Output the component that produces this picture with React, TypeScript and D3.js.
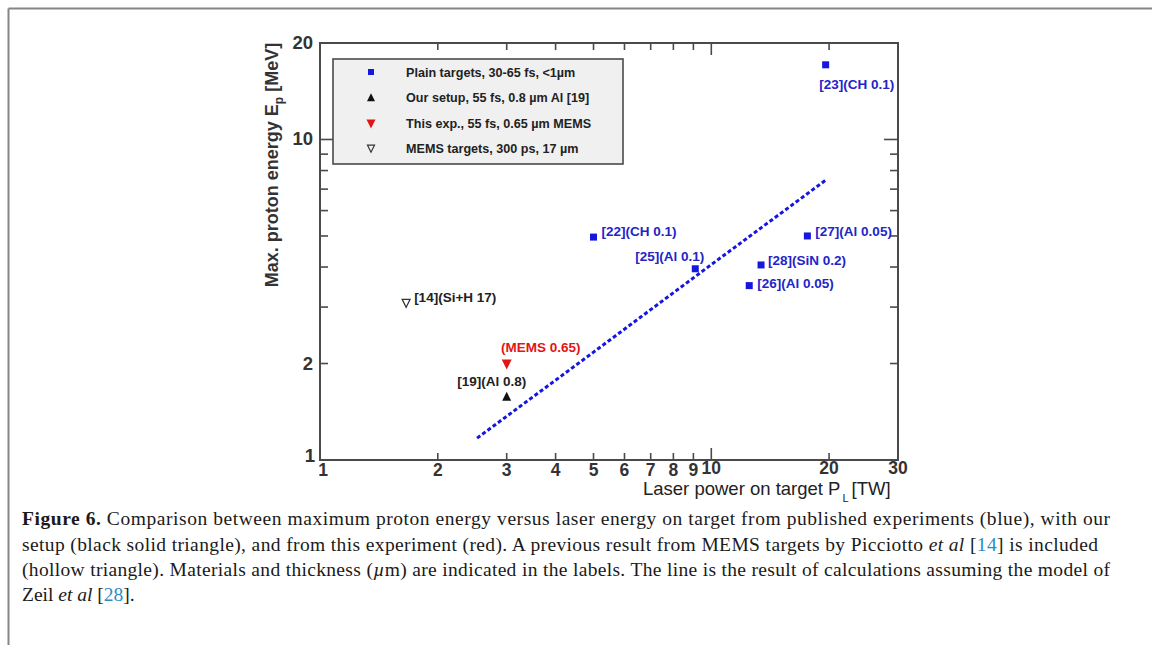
import * as d3 from 'd3';

// published experiments, plain targets (blue squares)
const plainRefs = ['[23](CH 0.1)', '[22](CH 0.1)', '[25](Al 0.1)', '[27](Al 0.05)', '[28](SiN 0.2)', '[26](Al 0.05)'];
const plainPower = [19.6, 5.0, 9.1, 17.6, 13.4, 12.5];
const plainEnergy = [17.1, 4.96, 3.95, 5.0, 4.06, 3.5];

// our setup (black triangle), this experiment (red), MEMS 300 ps (hollow)
const ourRef = '[19](Al 0.8)';
const ourPower = [3];
const ourEnergy = [1.57];
const thisRef = '(MEMS 0.65)';
const thisPower = [3];
const thisEnergy = [2.0];
const memsRef = '[14](Si+H 17)';
const memsPower = [1.66];
const memsEnergy = [3.1];

// model line (Zeil et al)
const modelPower = [2.52, 5, 10, 19.7];
const modelEnergy = [1.17, 2.17, 4.07, 7.5];

const xTicks = [1, 2, 3, 4, 5, 6, 7, 8, 9, 10, 20, 30];
const xTickLabels = ['1', '2', '3', '4', '5', '6', '7', '8', '9', '10', '20', '30'];
const yTicks = [1, 2, 3, 4, 5, 6, 7, 8, 9, 10, 20];
const yLabelled = [1, 2, 10, 20];

const legendLabels = [
  'Plain targets, 30-65 fs, <1\u00b5m',
  'Our setup, 55 fs, 0.8 \u00b5m Al [19]',
  'This exp., 55 fs, 0.65 \u00b5m MEMS',
  'MEMS targets, 300 ps, 17 \u00b5m',
];

// label placement (dx, dy, anchor) for the blue points, same order as plainRefs
const plainLabelPos: [number, number, string][] = [
  [31, 24, 'middle'],
  [8, -1, 'start'],
  [9, -8, 'end'],
  [8, 0, 'start'],
  [7, 0, 'start'],
  [8, 2, 'start'],
];

const BLUE = '#1616e0';
const LABEL_BLUE = '#2424c8';
const RED = '#e41414';
const AXIS = '#4a4a4a';
const SANS = "'Liberation Sans', Arial, sans-serif";
const SERIF = "'Liberation Serif', 'Times New Roman', serif";

function App() {
  const width = 1152;
  const height = 645;
  const x = d3.scaleLog().domain([1, 30]).range([320, 898]);
  const y = d3.scaleLog().domain([1, 20]).range([460, 43]);
  const left = x(1), right = x(30), top = y(20), bottom = y(1);

  const line = d3
    .line<number>()
    .x((d) => x(modelPower[d]))
    .y((d) => y(modelEnergy[d]));

  const square = (cx: number, cy: number, s: number) => (
    <rect x={cx - s / 2} y={cy - s / 2} width={s} height={s} fill={BLUE} />
  );
  const triUp = (cx: number, cy: number, s: number, fill: string) => (
    <path d={`M${cx},${cy - s * 0.6}L${cx + s / 2},${cy + s * 0.4}L${cx - s / 2},${cy + s * 0.4}Z`} fill={fill} />
  );
  const triDown = (cx: number, cy: number, s: number, fill: string, stroke = 'none') => (
    <path
      d={`M${cx - s / 2},${cy - s * 0.4}L${cx + s / 2},${cy - s * 0.4}L${cx},${cy + s * 0.6}Z`}
      fill={fill}
      stroke={stroke}
      strokeWidth={1.2}
    />
  );

  const isMajor = (v: number) => v === 1 || v === 10;

  return (
    <svg width={width} height={height} style={{ position: 'absolute', left: 0, top: 0, background: '#fff' }}>
      {/* page frame */}
      <line x1={8.5} y1={8.5} x2={width} y2={8.5} stroke="#858585" strokeWidth={2} />
      <line x1={8.5} y1={8.5} x2={8.5} y2={height} stroke="#858585" strokeWidth={2} />

      {/* plot box */}
      <rect x={left} y={top} width={right - left} height={bottom - top} fill="none" stroke={AXIS} strokeWidth={2} />

      {/* x ticks, bottom and top */}
      {xTicks.map((v, i) => {
        const len = isMajor(v) ? 12 : 7;
        return (
          <g key={'xt' + i}>
            <line x1={x(v)} x2={x(v)} y1={bottom} y2={bottom - len} stroke={AXIS} strokeWidth={1.6} />
            <line x1={x(v)} x2={x(v)} y1={top} y2={top + len} stroke={AXIS} strokeWidth={1.6} />
            <text
              x={x(v) + (v === 1 ? 3 : 0)}
              y={bottom + (v >= 10 ? 14 : 16)}
              textAnchor="middle"
              fontFamily={SANS}
              fontWeight="bold"
              fontSize={17.5}
              fill="#333"
            >
              {xTickLabels[i]}
            </text>
          </g>
        );
      })}

      {/* y ticks, left and right */}
      {yTicks.map((v, i) => {
        const len = isMajor(v) ? 14 : 8;
        return (
          <g key={'yt' + i}>
            <line x1={left} x2={left + len} y1={y(v)} y2={y(v)} stroke={AXIS} strokeWidth={1.6} />
            <line x1={right} x2={right - len} y1={y(v)} y2={y(v)} stroke={AXIS} strokeWidth={1.6} />
          </g>
        );
      })}
      {yLabelled.map((v) => (
        <text
          key={'yl' + v}
          x={v === 1 ? 315 : 313}
          y={y(v) + (v === 1 ? 2 : 6)}
          textAnchor="end"
          fontFamily={SANS}
          fontWeight="bold"
          fontSize={18.5}
          fill="#333"
        >
          {v}
        </text>
      ))}

      {/* axis titles */}
      <text
        transform="translate(278,165) rotate(-90)"
        textAnchor="middle"
        fontFamily={SANS}
        fontWeight="bold"
        fontSize={18}
        fill="#333"
      >
        Max. proton energy E
        <tspan fontSize={12} dy={5}>p</tspan>
        <tspan dy={-5}> [MeV]</tspan>
      </text>
      <text x={643} y={495} fontFamily={SANS} fontSize={18.5} fill="#222">
        Laser power on target P
        <tspan fontSize={11} dy={7} dx={2}>L</tspan>
        <tspan dy={-7} dx={3}>[TW]</tspan>
      </text>

      {/* model line */}
      <path
        d={line(modelPower.map((_, i) => i)) || ''}
        fill="none"
        stroke={BLUE}
        strokeWidth={3}
        strokeDasharray="4 2.5"
      />

      {/* legend */}
      <rect x={333} y={59} width={290} height={105} fill="#f0f0f0" stroke={AXIS} strokeWidth={1.6} />
      {square(371, 72, 6)}
      {triUp(371, 98, 8, '#111')}
      {triDown(371, 123, 9, RED)}
      {triDown(371, 148, 7, 'none', '#333')}
      {legendLabels.map((t, i) => (
        <text
          key={'lg' + i}
          x={406}
          y={77 + i * 25.3}
          fontFamily={SANS}
          fontWeight="bold"
          fontSize={12.6}
          fill="#222"
        >
          {t}
        </text>
      ))}

      {/* blue points */}
      {plainRefs.map((r, i) => {
        const cx = x(plainPower[i]);
        const cy = y(plainEnergy[i]);
        const [dx, dy, anchor] = plainLabelPos[i];
        return (
          <g key={'p' + i}>
            {square(cx, cy, 7)}
            <text
              x={cx + dx}
              y={cy + dy}
              textAnchor={anchor}
              fontFamily={SANS}
              fontWeight="bold"
              fontSize={13.5}
              fill={LABEL_BLUE}
            >
              {r}
            </text>
          </g>
        );
      })}

      {/* our setup */}
      {triUp(x(ourPower[0]), y(ourEnergy[0]), 9, '#111')}
      <text
        x={x(ourPower[0]) - 15}
        y={y(ourEnergy[0]) - 11}
        textAnchor="middle"
        fontFamily={SANS}
        fontWeight="bold"
        fontSize={13.5}
        fill="#222"
      >
        {ourRef}
      </text>

      {/* this experiment */}
      {triDown(x(thisPower[0]), y(thisEnergy[0]), 10, RED)}
      <text
        x={x(thisPower[0]) + 34}
        y={y(thisEnergy[0]) - 12}
        textAnchor="middle"
        fontFamily={SANS}
        fontWeight="bold"
        fontSize={13.5}
        fill={RED}
      >
        {thisRef}
      </text>

      {/* MEMS 300 ps */}
      {triDown(x(memsPower[0]), y(memsEnergy[0]), 8, 'none', '#333')}
      <text
        x={x(memsPower[0]) + 8}
        y={y(memsEnergy[0]) - 1}
        fontFamily={SANS}
        fontWeight="bold"
        fontSize={13.5}
        fill="#222"
      >
        {memsRef}
      </text>

      {/* caption */}
      <g fontFamily={SERIF} fontSize={19.5} fill="#1a1a1a">
        <text x={22} y={525} textLength={1088} lengthAdjust="spacing">
          <tspan fontWeight="bold">Figure 6.</tspan> Comparison between maximum proton energy versus laser energy on target from published experiments (blue), with our
        </text>
        <text x={22} y={551} textLength={1076} lengthAdjust="spacing">
          setup (black solid triangle), and from this experiment (red). A previous result from MEMS targets by Picciotto{' '}
          <tspan fontStyle="italic">et al</tspan> [<tspan fill="#2b8cc4">14</tspan>] is included
        </text>
        <text x={22} y={576} textLength={1088} lengthAdjust="spacing">
          (hollow triangle). Materials and thickness (<tspan fontStyle="italic">{'\u00b5'}</tspan>m) are indicated in the labels. The line is the result of calculations assuming the model of
        </text>
        <text x={22} y={601}>
          Zeil <tspan fontStyle="italic">et al</tspan> [<tspan fill="#2b8cc4">28</tspan>].
        </text>
      </g>
    </svg>
  );
}

export default App;
